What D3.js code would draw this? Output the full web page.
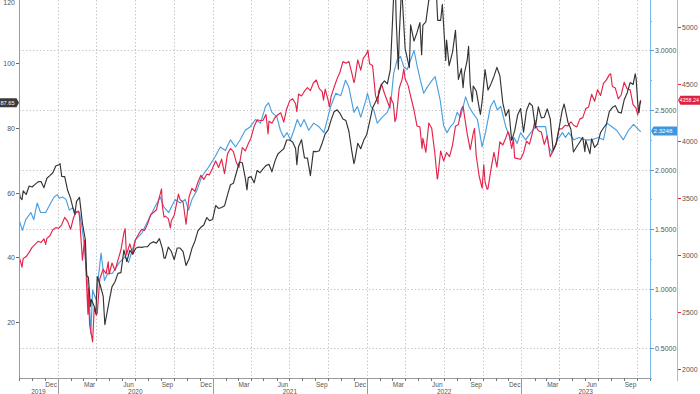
<!DOCTYPE html>
<html><head><meta charset="utf-8">
<script src="https://cdn.jsdelivr.net/npm/d3@7"></script>
<style>
body{margin:0;background:#fff;}
svg{display:block;font-family:"Liberation Sans",Arial,sans-serif;}
</style></head><body><svg id="c" width="700" height="394"></svg>
<script>
// ---------- DATA ----------
const brent = [["2019-10-01",61.0],["2019-10-04",58.4],["2019-10-08",57.8],["2019-10-11",60.5],["2019-10-18",59.4],["2019-10-25",62.0],["2019-11-01",61.7],["2019-11-08",62.5],["2019-11-15",63.3],["2019-11-22",63.4],["2019-11-29",61.5],["2019-12-06",64.4],["2019-12-13",65.2],["2019-12-20",66.1],["2019-12-27",68.2],["2020-01-03",68.6],["2020-01-06",68.9],["2020-01-10",65.0],["2020-01-17",64.9],["2020-01-24",60.7],["2020-01-31",58.2],["2020-02-07",54.5],["2020-02-10",53.3],["2020-02-14",57.3],["2020-02-21",58.5],["2020-02-28",50.5],["2020-03-06",45.3],["2020-03-09",34.4],["2020-03-13",33.9],["2020-03-18",24.9],["2020-03-20",27.0],["2020-03-27",24.9],["2020-03-31",22.7],["2020-04-03",34.1],["2020-04-10",31.5],["2020-04-17",28.1],["2020-04-21",19.3],["2020-04-24",21.4],["2020-05-01",26.4],["2020-05-08",31.0],["2020-05-15",32.5],["2020-05-22",35.1],["2020-05-29",35.3],["2020-06-05",42.3],["2020-06-12",38.7],["2020-06-19",42.2],["2020-06-26",41.0],["2020-07-03",42.8],["2020-07-10",43.2],["2020-07-17",43.1],["2020-07-24",43.3],["2020-07-31",43.3],["2020-08-07",44.4],["2020-08-14",44.8],["2020-08-21",44.4],["2020-08-28",45.8],["2020-09-04",42.7],["2020-09-08",39.8],["2020-09-11",39.8],["2020-09-18",43.2],["2020-09-25",41.9],["2020-10-02",39.3],["2020-10-09",42.9],["2020-10-16",42.9],["2020-10-23",41.8],["2020-10-30",37.5],["2020-11-06",39.5],["2020-11-13",42.8],["2020-11-20",45.0],["2020-11-27",48.2],["2020-12-04",49.3],["2020-12-11",50.0],["2020-12-18",52.3],["2020-12-25",51.3],["2021-01-01",51.8],["2021-01-08",56.0],["2021-01-15",55.1],["2021-01-22",55.4],["2021-01-29",55.9],["2021-02-05",59.3],["2021-02-12",62.4],["2021-02-19",62.9],["2021-02-26",66.1],["2021-03-05",69.4],["2021-03-12",69.2],["2021-03-19",64.5],["2021-03-23",60.8],["2021-03-26",64.6],["2021-04-02",64.9],["2021-04-09",63.0],["2021-04-16",66.8],["2021-04-23",66.1],["2021-04-30",67.3],["2021-05-07",68.3],["2021-05-14",68.7],["2021-05-21",66.4],["2021-05-28",69.6],["2021-06-04",71.9],["2021-06-11",72.7],["2021-06-18",73.5],["2021-06-25",76.2],["2021-07-02",76.2],["2021-07-09",75.6],["2021-07-16",73.6],["2021-07-19",68.6],["2021-07-23",74.1],["2021-07-30",76.3],["2021-08-06",70.7],["2021-08-13",70.6],["2021-08-20",65.2],["2021-08-27",72.7],["2021-09-03",72.6],["2021-09-10",72.9],["2021-09-17",75.3],["2021-09-24",78.1],["2021-10-01",79.3],["2021-10-08",82.4],["2021-10-15",84.9],["2021-10-22",85.5],["2021-10-29",84.4],["2021-11-05",82.7],["2021-11-12",82.2],["2021-11-19",78.9],["2021-11-26",72.7],["2021-12-01",68.9],["2021-12-03",69.9],["2021-12-10",75.2],["2021-12-17",73.5],["2021-12-24",76.1],["2021-12-31",77.8],["2022-01-07",81.8],["2022-01-14",86.1],["2022-01-21",87.9],["2022-01-28",90.0],["2022-02-04",93.3],["2022-02-11",94.4],["2022-02-18",93.5],["2022-02-25",97.9],["2022-03-04",118.1],["2022-03-08",128.0],["2022-03-11",112.7],["2022-03-16",98.0],["2022-03-18",107.9],["2022-03-23",121.6],["2022-03-25",120.7],["2022-04-01",104.4],["2022-04-11",98.5],["2022-04-14",111.7],["2022-04-22",106.7],["2022-04-29",109.3],["2022-05-06",112.4],["2022-05-10",102.5],["2022-05-13",111.6],["2022-05-20",112.6],["2022-05-27",119.4],["2022-06-03",119.7],["2022-06-08",123.6],["2022-06-14",121.2],["2022-06-17",113.1],["2022-06-24",113.1],["2022-06-28",118.0],["2022-07-01",111.6],["2022-07-06",100.7],["2022-07-08",107.0],["2022-07-14",99.1],["2022-07-22",103.2],["2022-07-29",110.0],["2022-08-05",94.9],["2022-08-12",98.2],["2022-08-16",92.3],["2022-08-19",96.7],["2022-08-26",101.0],["2022-08-29",105.1],["2022-09-02",93.0],["2022-09-07",88.0],["2022-09-09",92.8],["2022-09-16",91.4],["2022-09-23",86.2],["2022-09-26",84.1],["2022-09-30",88.0],["2022-10-07",97.9],["2022-10-14",91.6],["2022-10-21",93.5],["2022-10-28",95.8],["2022-11-04",98.6],["2022-11-11",96.0],["2022-11-18",87.6],["2022-11-25",83.6],["2022-12-02",85.6],["2022-12-09",76.1],["2022-12-16",79.0],["2022-12-23",83.9],["2022-12-30",85.9],["2023-01-06",78.6],["2023-01-13",85.3],["2023-01-20",87.6],["2023-01-27",86.7],["2023-02-03",79.9],["2023-02-10",86.4],["2023-02-17",83.0],["2023-02-24",83.2],["2023-03-03",85.8],["2023-03-10",82.8],["2023-03-17",73.0],["2023-03-20",73.8],["2023-03-24",75.0],["2023-03-31",79.8],["2023-04-07",85.1],["2023-04-12",87.3],["2023-04-21",81.7],["2023-04-28",79.5],["2023-05-04",72.5],["2023-05-12",74.2],["2023-05-19",75.6],["2023-05-26",77.0],["2023-05-31",72.6],["2023-06-02",76.1],["2023-06-12",72.0],["2023-06-16",76.6],["2023-06-23",73.9],["2023-06-30",74.9],["2023-07-07",78.5],["2023-07-14",79.9],["2023-07-21",81.1],["2023-07-28",85.0],["2023-08-04",86.2],["2023-08-11",86.8],["2023-08-18",84.8],["2023-08-25",84.5],["2023-09-01",88.6],["2023-09-08",90.7],["2023-09-15",93.9],["2023-09-22",93.3],["2023-09-27",96.6],["2023-09-29",95.3],["2023-10-04",85.8],["2023-10-06",84.6],["2023-10-09",88.2],["2023-10-10",87.65]];

const ratio = [["2019-10-01",1.58],["2019-10-09",1.49],["2019-10-17",1.58],["2019-10-29",1.64],["2019-11-05",1.58],["2019-11-13",1.72],["2019-11-21",1.64],["2019-12-03",1.64],["2019-12-15",1.72],["2019-12-23",1.77],["2019-12-31",1.79],["2020-01-04",1.76],["2020-01-12",1.77],["2020-01-20",1.75],["2020-01-28",1.66],["2020-02-05",1.68],["2020-02-13",1.64],["2020-02-21",1.64],["2020-02-28",1.49],["2020-03-03",1.38],["2020-03-11",1.05],["2020-03-15",0.91],["2020-03-19",0.62],["2020-03-23",0.99],["2020-03-31",0.91],["2020-04-12",1.30],["2020-04-20",1.07],["2020-04-28",1.13],["2020-05-09",1.13],["2020-05-25",1.22],["2020-06-08",1.27],["2020-06-16",1.22],["2020-07-02",1.41],["2020-07-18",1.47],["2020-08-02",1.58],["2020-08-18",1.69],["2020-08-30",1.77],["2020-09-07",1.69],["2020-09-19",1.64],["2020-10-04",1.75],["2020-10-16",1.72],["2020-10-28",1.75],["2020-11-05",1.66],["2020-11-13",1.75],["2020-11-25",1.83],["2020-12-06",1.94],["2020-12-22",2.02],["2021-01-07",2.11],["2021-01-19",2.19],["2021-01-31",2.16],["2021-02-12",2.25],["2021-02-24",2.19],["2021-03-07",2.25],["2021-03-19",2.33],["2021-03-31",2.36],["2021-04-12",2.42],["2021-04-24",2.39],["2021-05-06",2.53],["2021-05-13",2.56],["2021-05-21",2.48],["2021-06-02",2.44],["2021-06-10",2.33],["2021-06-18",2.27],["2021-06-26",2.31],["2021-07-04",2.25],["2021-07-12",2.33],["2021-07-20",2.42],["2021-07-28",2.36],["2021-08-05",2.42],["2021-08-16",2.33],["2021-08-28",2.39],["2021-09-09",2.36],["2021-09-21",2.31],["2021-09-29",2.42],["2021-10-07",2.53],["2021-10-19",2.64],["2021-10-31",2.62],["2021-11-11",2.75],["2021-11-19",2.69],["2021-12-01",2.48],["2021-12-09",2.53],["2021-12-17",2.44],["2021-12-29",2.58],["2022-01-02",2.64],["2022-01-10",2.53],["2022-01-17",2.50],["2022-01-25",2.39],["2022-02-06",2.44],["2022-02-18",2.48],["2022-02-26",2.56],["2022-03-05",2.81],["2022-03-13",2.92],["2022-03-21",2.95],["2022-03-29",2.86],["2022-04-06",2.84],["2022-04-14",2.92],["2022-04-22",3.00],["2022-04-30",2.86],["2022-05-07",2.75],["2022-05-15",2.64],["2022-05-23",2.69],["2022-06-04",2.75],["2022-06-11",2.78],["2022-06-23",2.58],["2022-07-01",2.37],["2022-07-09",2.31],["2022-07-17",2.36],["2022-07-25",2.39],["2022-08-02",2.48],["2022-08-10",2.44],["2022-08-22",2.61],["2022-08-30",2.53],["2022-09-07",2.48],["2022-09-19",2.42],["2022-09-30",2.19],["2022-10-08",2.31],["2022-10-20",2.53],["2022-10-28",2.58],["2022-11-05",2.50],["2022-11-13",2.53],["2022-11-25",2.36],["2022-12-07",2.25],["2022-12-14",2.27],["2022-12-22",2.22],["2022-12-30",2.31],["2023-01-11",2.25],["2023-01-23",2.31],["2023-02-04",2.36],["2023-02-15",2.36],["2023-02-27",2.36],["2023-03-07",2.19],["2023-03-15",2.14],["2023-03-27",2.25],["2023-04-08",2.31],["2023-04-15",2.27],["2023-04-23",2.31],["2023-05-05",2.25],["2023-05-17",2.27],["2023-06-01",2.25],["2023-06-17",2.25],["2023-07-02",2.27],["2023-07-14",2.25],["2023-07-22",2.39],["2023-08-03",2.36],["2023-08-14",2.33],["2023-08-30",2.25],["2023-09-11",2.33],["2023-09-23",2.38],["2023-10-01",2.35],["2023-10-09",2.32],["2023-10-10",2.3248]];

const spx = [["2019-10-01",2982],["2019-10-04",2952],["2019-10-08",2893],["2019-10-11",2970],["2019-10-18",2986],["2019-10-25",3023],["2019-11-01",3067],["2019-11-08",3093],["2019-11-15",3120],["2019-11-22",3110],["2019-11-29",3141],["2019-12-03",3093],["2019-12-06",3146],["2019-12-13",3169],["2019-12-20",3221],["2019-12-27",3240],["2020-01-03",3235],["2020-01-10",3265],["2020-01-17",3330],["2020-01-24",3295],["2020-01-31",3226],["2020-02-07",3328],["2020-02-14",3380],["2020-02-19",3386],["2020-02-21",3338],["2020-02-28",2954],["2020-03-04",3130],["2020-03-06",2972],["2020-03-12",2481],["2020-03-13",2711],["2020-03-16",2386],["2020-03-20",2305],["2020-03-23",2237],["2020-03-27",2541],["2020-04-01",2471],["2020-04-03",2489],["2020-04-09",2790],["2020-04-17",2875],["2020-04-24",2837],["2020-04-29",2940],["2020-05-01",2831],["2020-05-08",2930],["2020-05-15",2864],["2020-05-22",2955],["2020-05-29",3044],["2020-06-05",3194],["2020-06-08",3232],["2020-06-11",3002],["2020-06-19",3098],["2020-06-26",3009],["2020-07-02",3130],["2020-07-10",3185],["2020-07-17",3225],["2020-07-24",3216],["2020-07-31",3271],["2020-08-07",3351],["2020-08-14",3373],["2020-08-21",3397],["2020-08-28",3508],["2020-09-02",3580],["2020-09-04",3427],["2020-09-08",3332],["2020-09-11",3341],["2020-09-18",3319],["2020-09-23",3237],["2020-09-25",3298],["2020-10-02",3348],["2020-10-09",3477],["2020-10-12",3534],["2020-10-16",3484],["2020-10-23",3465],["2020-10-30",3270],["2020-11-06",3509],["2020-11-13",3585],["2020-11-20",3558],["2020-11-27",3638],["2020-12-04",3699],["2020-12-11",3663],["2020-12-18",3709],["2020-12-24",3703],["2020-12-31",3756],["2021-01-08",3825],["2021-01-15",3768],["2021-01-22",3841],["2021-01-29",3714],["2021-02-05",3887],["2021-02-12",3934],["2021-02-19",3907],["2021-02-26",3811],["2021-03-04",3768],["2021-03-12",3943],["2021-03-19",3913],["2021-03-26",3975],["2021-04-01",4020],["2021-04-09",4129],["2021-04-16",4185],["2021-04-23",4180],["2021-04-30",4181],["2021-05-07",4233],["2021-05-12",4063],["2021-05-14",4174],["2021-05-21",4156],["2021-05-28",4204],["2021-06-04",4230],["2021-06-11",4247],["2021-06-18",4166],["2021-06-25",4281],["2021-07-02",4352],["2021-07-09",4370],["2021-07-16",4327],["2021-07-19",4258],["2021-07-23",4412],["2021-07-30",4395],["2021-08-06",4437],["2021-08-13",4468],["2021-08-20",4442],["2021-08-27",4509],["2021-09-03",4535],["2021-09-10",4459],["2021-09-17",4433],["2021-09-20",4358],["2021-09-24",4455],["2021-10-01",4357],["2021-10-04",4300],["2021-10-08",4391],["2021-10-15",4471],["2021-10-22",4545],["2021-10-29",4605],["2021-11-05",4697],["2021-11-12",4683],["2021-11-19",4698],["2021-11-26",4595],["2021-12-01",4513],["2021-12-03",4538],["2021-12-10",4712],["2021-12-17",4621],["2021-12-23",4725],["2021-12-31",4766],["2022-01-03",4796],["2022-01-07",4677],["2022-01-14",4663],["2022-01-21",4398],["2022-01-27",4326],["2022-01-28",4432],["2022-02-04",4500],["2022-02-11",4419],["2022-02-18",4349],["2022-02-24",4288],["2022-02-25",4385],["2022-03-04",4329],["2022-03-08",4170],["2022-03-11",4204],["2022-03-18",4463],["2022-03-25",4543],["2022-03-29",4632],["2022-04-01",4546],["2022-04-08",4488],["2022-04-14",4393],["2022-04-22",4272],["2022-04-29",4132],["2022-05-06",4123],["2022-05-11",3935],["2022-05-13",4024],["2022-05-20",3901],["2022-05-27",4158],["2022-06-03",4109],["2022-06-10",3901],["2022-06-16",3667],["2022-06-17",3675],["2022-06-24",3912],["2022-07-01",3825],["2022-07-08",3899],["2022-07-15",3863],["2022-07-22",3962],["2022-07-29",4130],["2022-08-05",4145],["2022-08-12",4280],["2022-08-16",4305],["2022-08-19",4228],["2022-08-26",4058],["2022-09-02",3924],["2022-09-09",4067],["2022-09-12",4110],["2022-09-16",3873],["2022-09-23",3693],["2022-09-30",3586],["2022-10-04",3791],["2022-10-07",3640],["2022-10-12",3577],["2022-10-14",3583],["2022-10-21",3753],["2022-10-28",3901],["2022-11-04",3771],["2022-11-11",3993],["2022-11-18",3965],["2022-11-25",4026],["2022-11-30",4080],["2022-12-02",4072],["2022-12-09",3934],["2022-12-13",4019],["2022-12-16",3852],["2022-12-23",3845],["2022-12-30",3840],["2023-01-06",3895],["2023-01-13",3999],["2023-01-20",3973],["2023-01-27",4071],["2023-02-02",4180],["2023-02-03",4136],["2023-02-10",4090],["2023-02-17",4079],["2023-02-24",3970],["2023-03-03",4046],["2023-03-10",3862],["2023-03-17",3917],["2023-03-24",3971],["2023-03-31",4109],["2023-04-06",4105],["2023-04-14",4138],["2023-04-21",4133],["2023-04-28",4169],["2023-05-05",4136],["2023-05-12",4124],["2023-05-19",4192],["2023-05-26",4205],["2023-06-02",4282],["2023-06-09",4299],["2023-06-16",4410],["2023-06-23",4348],["2023-06-30",4450],["2023-07-07",4399],["2023-07-14",4505],["2023-07-21",4536],["2023-07-28",4582],["2023-07-31",4589],["2023-08-04",4478],["2023-08-11",4464],["2023-08-18",4370],["2023-08-25",4406],["2023-09-01",4516],["2023-09-08",4457],["2023-09-15",4450],["2023-09-22",4320],["2023-09-29",4288],["2023-10-03",4229],["2023-10-06",4308],["2023-10-09",4336],["2023-10-10",4358.24]];

const leftTicks = [20, 40, 60, 80, 100, 120];
const blueTicks = [0.5, 1.0, 1.5, 2.0, 2.5, 3.0];
const blueMinor = [0.25, 0.75, 1.25, 1.75, 2.25, 2.75, 3.25];
const redTicks = [2000, 2500, 3000, 3500, 4000, 4500, 5000];
const monthNames = {11: "Dec", 2: "Mar", 5: "Jun", 8: "Sep"};
const years = [2019, 2020, 2021, 2022, 2023];
const lastLabels = {brent: "87.65", ratio: "2.3248", spx: "4358.24"};

// ---------- LAYOUT ----------
const parse = d3.utcParse("%Y-%m-%d");
const L = 19, R = 650, T = 0, B = 378;
const x = d3.scaleUtc().domain([Date.UTC(2019,9,1), Date.UTC(2023,10,1)]).range([L, R]);
const yL = d3.scaleLinear().domain([20, 100]).range([322.3, 62.8]);
const yB = d3.scaleLinear().domain([0.5, 3.0]).range([348.4, 50.4]);
const yR = d3.scaleLinear().domain([2000, 5000]).range([369, 27]);

const svg = d3.select("#c");
const gridCol = "#c8c8c8", axisCol = "#9a9a9a", txtCol = "#555";
const fontSize = 7;

svg.append("defs").append("clipPath").attr("id","plot")
  .append("rect").attr("x", L).attr("y", T).attr("width", R - L).attr("height", B - T);

// gridlines
const quarters = d3.utcMonth.every(3).range(Date.UTC(2019,9,1), Date.UTC(2023,10,2));
svg.append("g").selectAll("line").data(quarters).join("line")
  .attr("x1", d => Math.round(x(d)) + 0.5).attr("x2", d => Math.round(x(d)) + 0.5)
  .attr("y1", T).attr("y2", B)
  .attr("stroke", gridCol).attr("stroke-width", 1).attr("stroke-dasharray", "1.5,2");
svg.append("g").selectAll("line").data(blueTicks).join("line")
  .attr("x1", L).attr("x2", R)
  .attr("y1", d => Math.round(yB(d)) + 0.5).attr("y2", d => Math.round(yB(d)) + 0.5)
  .attr("stroke", gridCol).attr("stroke-width", 1).attr("stroke-dasharray", "1.5,2");

// lines
function draw(data, y, color) {
  const pts = data.map(d => [parse(d[0]), d[1]]);
  svg.append("path").datum(pts)
    .attr("clip-path", "url(#plot)")
    .attr("fill", "none").attr("stroke", color).attr("stroke-width", 1.15)
    .attr("stroke-linejoin", "round")
    .attr("d", d3.line().x(d => x(d[0])).y(d => y(d[1])));
}
const cBlue = "#4a9fe0", cRed = "#e4234b", cBlack = "#333333";
draw(ratio, yB, cBlue);
draw(spx, yR, cRed);
draw(brent, yL, cBlack);

// left axis
const gl = svg.append("g").attr("font-size", fontSize).attr("fill", txtCol);
gl.append("line").attr("x1", L + 0.5).attr("x2", L + 0.5).attr("y1", T).attr("y2", B).attr("stroke", axisCol);
leftTicks.forEach(v => {
  const yy = Math.round(yL(v)) + 0.5;
  gl.append("line").attr("x1", L - 3).attr("x2", L).attr("y1", yy).attr("y2", yy).attr("stroke", "#666");
  gl.append("text").attr("x", L - 4).attr("y", Math.max(yy, 3)).attr("dy", "0.35em").attr("text-anchor", "end").text(v);
});

// bottom axis
const gb = svg.append("g").attr("font-size", 6.5).attr("fill", txtCol);
gb.append("line").attr("x1", L).attr("x2", R).attr("y1", B + 0.5).attr("y2", B + 0.5).attr("stroke", axisCol);
const months = d3.utcMonth.range(Date.UTC(2019,9,1), Date.UTC(2023,10,2));
months.forEach(m => {
  const xx = Math.round(x(m)) + 0.5;
  gb.append("line").attr("x1", xx).attr("x2", xx).attr("y1", B).attr("y2", B + 3).attr("stroke", "#777");
  const mo = m.getUTCMonth();
  if (monthNames[mo] !== undefined) {
    const mid = new Date(Date.UTC(m.getUTCFullYear(), mo, 16));
    gb.append("text").attr("x", x(mid)).attr("y", 387).attr("text-anchor", "middle").text(monthNames[mo]);
  }
});
years.forEach(yr => {
  const s = Math.max(x(Date.UTC(yr,0,1)), L), e = Math.min(x(Date.UTC(yr+1,0,1)), R);
  gb.append("text").attr("x", (s + e) / 2).attr("y", 393.5).attr("text-anchor", "middle").text(yr);
  if (yr > 2019) {
    const xx = Math.round(x(Date.UTC(yr,0,1))) + 0.5;
    gb.append("line").attr("x1", xx).attr("x2", xx).attr("y1", B).attr("y2", 394).attr("stroke", "#999");
  }
});

// blue axis
const gB = svg.append("g").attr("font-size", fontSize).attr("fill", txtCol);
gB.append("line").attr("x1", R + 0.5).attr("x2", R + 0.5).attr("y1", T).attr("y2", B).attr("stroke", "#7ab8e8");
blueMinor.forEach(v => {
  const yy = Math.round(yB(v)) + 0.5;
  gB.append("line").attr("x1", R).attr("x2", R + 2).attr("y1", yy).attr("y2", yy).attr("stroke", "#7ab8e8");
});
blueTicks.forEach(v => {
  const yy = Math.round(yB(v)) + 0.5;
  gB.append("line").attr("x1", R).attr("x2", R + 4).attr("y1", yy).attr("y2", yy).attr("stroke", "#5a9fd8");
  gB.append("text").attr("x", R + 5).attr("y", yy).attr("dy", "0.35em").text(d3.format(".4f")(v));
});

// red axis
const RX = 677;
const gR = svg.append("g").attr("font-size", fontSize).attr("fill", txtCol);
gR.append("line").attr("x1", RX + 0.5).attr("x2", RX + 0.5).attr("y1", T).attr("y2", 381).attr("stroke", "#eaa2b2");
redTicks.forEach(v => {
  const yy = Math.round(yR(v)) + 0.5;
  gR.append("line").attr("x1", RX + 1).attr("x2", RX + 4).attr("y1", yy).attr("y2", yy).attr("stroke", cRed);
  gR.append("text").attr("x", RX + 5).attr("y", yy).attr("dy", "0.35em").text(v);
});

// value tags
function tag(xa, xb, yc, dir, fill, label, fs, tx) {
  const h = 4.5, a = 2.5;
  let pts;
  if (dir === "right") pts = [[xa, yc - h], [xb - a, yc - h], [xb, yc], [xb - a, yc + h], [xa, yc + h]];
  else pts = [[xa, yc], [xa + a, yc - h], [xb, yc - h], [xb, yc + h], [xa + a, yc + h]];
  svg.append("polygon").attr("points", pts.map(p => p.join(",")).join(" ")).attr("fill", fill);
  svg.append("text").attr("x", tx).attr("y", yc).attr("dy", "0.35em")
    .attr("font-size", fs).attr("fill", "#fff").text(label);
}
const lastVal = d => d[d.length - 1][1];
tag(0, L, yL(lastVal(brent)), "right", "#3a3a3a", lastLabels.brent, 5.6, 0.5);
tag(R + 1, RX, yB(lastVal(ratio)), "left", "#3d96e0", lastLabels.ratio, 6.2, R + 3.5);
tag(RX + 1, 700, yR(lastVal(spx)), "left", "#e0203f", lastLabels.spx, 5.4, RX + 2.5);
</script></body></html>
